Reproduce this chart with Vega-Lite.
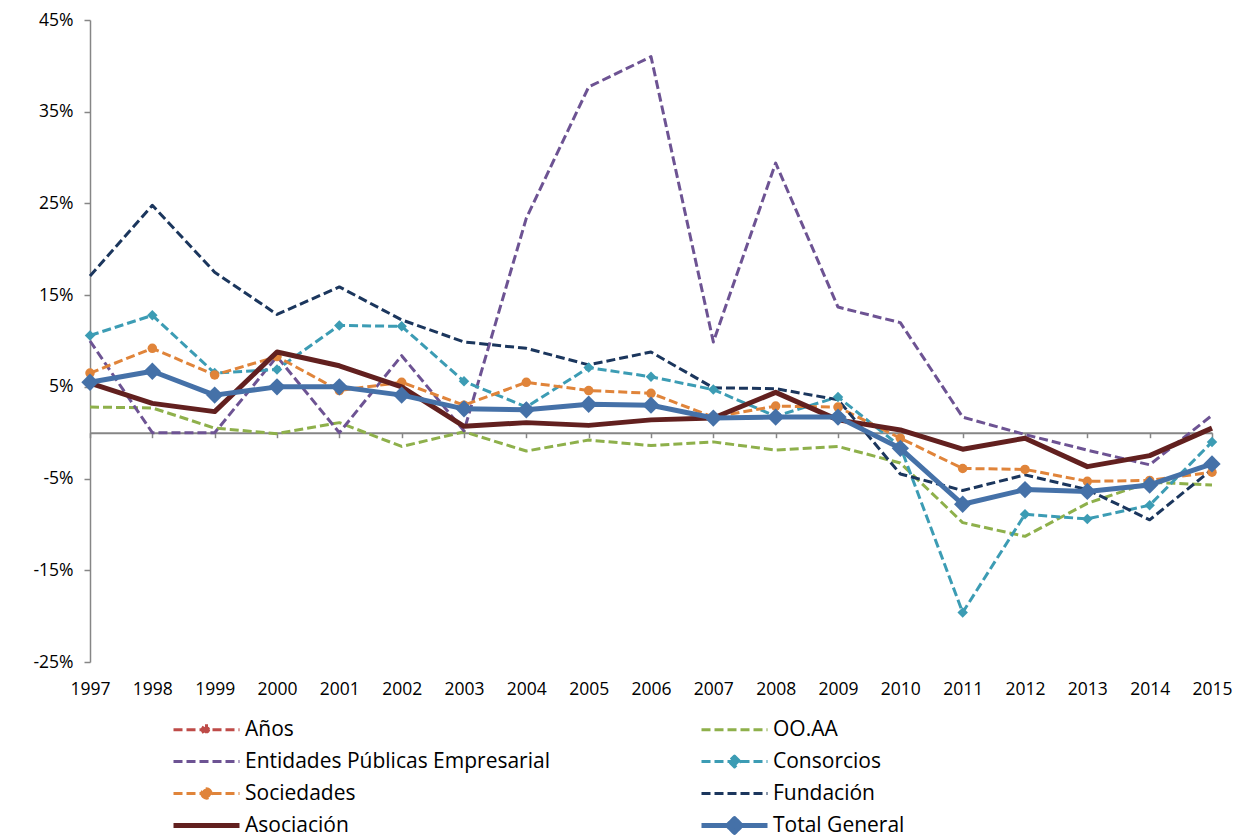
{
  "$schema": "https://vega.github.io/schema/vega-lite/v6.json",
  "width": 1122,
  "height": 642,
  "autosize": {"type": "none"},
  "padding": {"left": 90, "top": 20, "right": 31, "bottom": 175},
  "background": "white",
  "config": {"view": {"stroke": null}, "font": "Open Sans"},
  "datasets": {
    "d": [
      {"serie":"OO.AA","year":1997,"value":2.8},{"serie":"OO.AA","year":1998,"value":2.7},{"serie":"OO.AA","year":1999,"value":0.5},{"serie":"OO.AA","year":2000,"value":-0.1},{"serie":"OO.AA","year":2001,"value":1.1},{"serie":"OO.AA","year":2002,"value":-1.5},{"serie":"OO.AA","year":2003,"value":0.1},{"serie":"OO.AA","year":2004,"value":-2.0},{"serie":"OO.AA","year":2005,"value":-0.8},{"serie":"OO.AA","year":2006,"value":-1.4},{"serie":"OO.AA","year":2007,"value":-1.0},{"serie":"OO.AA","year":2008,"value":-1.9},{"serie":"OO.AA","year":2009,"value":-1.5},{"serie":"OO.AA","year":2010,"value":-3.3},{"serie":"OO.AA","year":2011,"value":-9.8},{"serie":"OO.AA","year":2012,"value":-11.3},{"serie":"OO.AA","year":2013,"value":-7.7},{"serie":"OO.AA","year":2014,"value":-5.4},{"serie":"OO.AA","year":2015,"value":-5.7},
      {"serie":"Entidades Públicas Empresarial","year":1997,"value":10.0},{"serie":"Entidades Públicas Empresarial","year":1998,"value":0.0},{"serie":"Entidades Públicas Empresarial","year":1999,"value":0.0},{"serie":"Entidades Públicas Empresarial","year":2000,"value":8.3},{"serie":"Entidades Públicas Empresarial","year":2001,"value":0.0},{"serie":"Entidades Públicas Empresarial","year":2002,"value":8.4},{"serie":"Entidades Públicas Empresarial","year":2003,"value":0.2},{"serie":"Entidades Públicas Empresarial","year":2004,"value":23.4},{"serie":"Entidades Públicas Empresarial","year":2005,"value":37.7},{"serie":"Entidades Públicas Empresarial","year":2006,"value":41.0},{"serie":"Entidades Públicas Empresarial","year":2007,"value":9.9},{"serie":"Entidades Públicas Empresarial","year":2008,"value":29.4},{"serie":"Entidades Públicas Empresarial","year":2009,"value":13.7},{"serie":"Entidades Públicas Empresarial","year":2010,"value":12.0},{"serie":"Entidades Públicas Empresarial","year":2011,"value":1.7},{"serie":"Entidades Públicas Empresarial","year":2012,"value":-0.2},{"serie":"Entidades Públicas Empresarial","year":2013,"value":-1.9},{"serie":"Entidades Públicas Empresarial","year":2014,"value":-3.5},{"serie":"Entidades Públicas Empresarial","year":2015,"value":1.9},
      {"serie":"Consorcios","year":1997,"value":10.6},{"serie":"Consorcios","year":1998,"value":12.8},{"serie":"Consorcios","year":1999,"value":6.5},{"serie":"Consorcios","year":2000,"value":6.9},{"serie":"Consorcios","year":2001,"value":11.7},{"serie":"Consorcios","year":2002,"value":11.6},{"serie":"Consorcios","year":2003,"value":5.6},{"serie":"Consorcios","year":2004,"value":2.8},{"serie":"Consorcios","year":2005,"value":7.1},{"serie":"Consorcios","year":2006,"value":6.1},{"serie":"Consorcios","year":2007,"value":4.7},{"serie":"Consorcios","year":2008,"value":1.8},{"serie":"Consorcios","year":2009,"value":3.9},{"serie":"Consorcios","year":2010,"value":-1.5},{"serie":"Consorcios","year":2011,"value":-19.6},{"serie":"Consorcios","year":2012,"value":-8.9},{"serie":"Consorcios","year":2013,"value":-9.4},{"serie":"Consorcios","year":2014,"value":-7.9},{"serie":"Consorcios","year":2015,"value":-1.0},
      {"serie":"Sociedades","year":1997,"value":6.5},{"serie":"Sociedades","year":1998,"value":9.2},{"serie":"Sociedades","year":1999,"value":6.3},{"serie":"Sociedades","year":2000,"value":8.3},{"serie":"Sociedades","year":2001,"value":4.6},{"serie":"Sociedades","year":2002,"value":5.5},{"serie":"Sociedades","year":2003,"value":3.0},{"serie":"Sociedades","year":2004,"value":5.5},{"serie":"Sociedades","year":2005,"value":4.6},{"serie":"Sociedades","year":2006,"value":4.3},{"serie":"Sociedades","year":2007,"value":1.7},{"serie":"Sociedades","year":2008,"value":2.9},{"serie":"Sociedades","year":2009,"value":2.8},{"serie":"Sociedades","year":2010,"value":-0.6},{"serie":"Sociedades","year":2011,"value":-3.9},{"serie":"Sociedades","year":2012,"value":-4.0},{"serie":"Sociedades","year":2013,"value":-5.3},{"serie":"Sociedades","year":2014,"value":-5.2},{"serie":"Sociedades","year":2015,"value":-4.3},
      {"serie":"Fundación","year":1997,"value":17.1},{"serie":"Fundación","year":1998,"value":24.8},{"serie":"Fundación","year":1999,"value":17.5},{"serie":"Fundación","year":2000,"value":12.9},{"serie":"Fundación","year":2001,"value":15.9},{"serie":"Fundación","year":2002,"value":12.3},{"serie":"Fundación","year":2003,"value":9.9},{"serie":"Fundación","year":2004,"value":9.2},{"serie":"Fundación","year":2005,"value":7.4},{"serie":"Fundación","year":2006,"value":8.8},{"serie":"Fundación","year":2007,"value":4.9},{"serie":"Fundación","year":2008,"value":4.8},{"serie":"Fundación","year":2009,"value":3.6},{"serie":"Fundación","year":2010,"value":-4.5},{"serie":"Fundación","year":2011,"value":-6.3},{"serie":"Fundación","year":2012,"value":-4.6},{"serie":"Fundación","year":2013,"value":-6.2},{"serie":"Fundación","year":2014,"value":-9.5},{"serie":"Fundación","year":2015,"value":-4.0},
      {"serie":"Asociación","year":1997,"value":5.4},{"serie":"Asociación","year":1998,"value":3.2},{"serie":"Asociación","year":1999,"value":2.3},{"serie":"Asociación","year":2000,"value":8.8},{"serie":"Asociación","year":2001,"value":7.3},{"serie":"Asociación","year":2002,"value":5.0},{"serie":"Asociación","year":2003,"value":0.7},{"serie":"Asociación","year":2004,"value":1.1},{"serie":"Asociación","year":2005,"value":0.8},{"serie":"Asociación","year":2006,"value":1.4},{"serie":"Asociación","year":2007,"value":1.6},{"serie":"Asociación","year":2008,"value":4.4},{"serie":"Asociación","year":2009,"value":1.4},{"serie":"Asociación","year":2010,"value":0.3},{"serie":"Asociación","year":2011,"value":-1.8},{"serie":"Asociación","year":2012,"value":-0.6},{"serie":"Asociación","year":2013,"value":-3.7},{"serie":"Asociación","year":2014,"value":-2.5},{"serie":"Asociación","year":2015,"value":0.5},
      {"serie":"Total General","year":1997,"value":5.5},{"serie":"Total General","year":1998,"value":6.7},{"serie":"Total General","year":1999,"value":4.1},{"serie":"Total General","year":2000,"value":5.0},{"serie":"Total General","year":2001,"value":5.0},{"serie":"Total General","year":2002,"value":4.1},{"serie":"Total General","year":2003,"value":2.6},{"serie":"Total General","year":2004,"value":2.5},{"serie":"Total General","year":2005,"value":3.1},{"serie":"Total General","year":2006,"value":3.0},{"serie":"Total General","year":2007,"value":1.6},{"serie":"Total General","year":2008,"value":1.7},{"serie":"Total General","year":2009,"value":1.7},{"serie":"Total General","year":2010,"value":-1.7},{"serie":"Total General","year":2011,"value":-7.8},{"serie":"Total General","year":2012,"value":-6.2},{"serie":"Total General","year":2013,"value":-6.4},{"serie":"Total General","year":2014,"value":-5.7},{"serie":"Total General","year":2015,"value":-3.4}
    ]
  },
  "data": {"name": "d"},
  "encoding": {
    "x": {"field": "year", "type": "ordinal", "scale": {"type": "point", "padding": 0}, "axis": null},
    "y": {
      "field": "value", "type": "quantitative",
      "scale": {"domain": [-25, 45], "nice": false, "zero": false},
      "axis": {
        "title": null, "grid": false,
        "values": [-25, -15, -5, 5, 15, 25, 35, 45],
        "labelExpr": "datum.value + '%'",
        "domainColor": "#868686", "domainWidth": 1.5,
        "tickColor": "#868686", "tickSize": 6, "tickWidth": 1.5,
        "labelPadding": 11, "labelFontSize": 17.5, "labelColor": "#000000", "labelFont": "Open Sans"
      }
    },
    "color": {
      "field": "serie", "type": "nominal",
      "scale": {
        "domain": ["Años", "Entidades Públicas Empresarial", "Sociedades", "Asociación", "OO.AA", "Consorcios", "Fundación", "Total General"],
        "range": ["#BE4B48", "#6D5393", "#E0843A", "#62201F", "#8EB04B", "#3C9CB4", "#1B365D", "#4571A8"]
      },
      "legend": {
        "title": null, "orient": "none", "legendX": 106, "legendY": 699,
        "columns": 2, "columnPadding": 149, "rowPadding": 10, "padding": 0,
        "labelFont": "Open Sans", "labelFontSize": 21, "labelColor": "#000000", "labelOffset": 28, "labelLimit": 600,
        "symbolSize": 100,
        "encode": {
          "symbols": {
            "update": {
              "shape": {"signal": "datum.value === 'Años' ? 'M-6.6,0H6.6M0,-1.1V1.1M-0.95,-0.55L0.95,0.55M-0.95,0.55L0.95,-0.55' : datum.value === 'Consorcios' ? 'M-6.6,0H6.6M0,-1.1L1.1,0L0,1.1L-1.1,0Z' : datum.value === 'Sociedades' ? 'M-6.6,0H6.6M-0.93,0A0.93,0.93 0 1,0 0.93,0A0.93,0.93 0 1,0 -0.93,0Z' : datum.value === 'Total General' ? 'M-6.6,0H6.6M0,-1.35L1.35,0L0,1.35L-1.35,0Z' : 'M-6.6,0H6.6'"},
              "stroke": {"scale": "color", "field": "value"},
              "fill": {"scale": "color", "field": "value"},
              "strokeWidth": {"signal": "datum.value === 'Asociación' || datum.value === 'Total General' ? 5 : 3"},
              "strokeDash": {"signal": "datum.value === 'Asociación' || datum.value === 'Total General' ? [1, 0] : [9, 4]"},
              "strokeJoin": {"value": "round"},
              "opacity": {"value": 1},
              "fillOpacity": {"value": 1},
              "strokeOpacity": {"value": 1}
            }
          }
        }
      }
    }
  },
  "layer": [
    {
      "transform": [{"filter": "indexof(['OO.AA','Entidades Públicas Empresarial','Consorcios','Sociedades','Fundación'], datum.serie) >= 0"}],
      "mark": {"type": "line", "strokeWidth": 3, "strokeDash": [9, 4], "strokeJoin": "round"},
      "encoding": {
        "x": {"field": "year", "type": "ordinal", "scale": {"type": "point", "padding": 0},
          "axis": {"orient": "bottom", "title": null, "domain": false, "ticks": false, "labelPadding": 18, "labelAngle": 0, "labelFontSize": 17.5, "labelColor": "#000000", "labelFont": "Open Sans"}}
      }
    },
    {
      "transform": [{"filter": "datum.serie === 'Consorcios'"}],
      "mark": {"type": "point", "shape": "diamond", "filled": true, "opacity": 1, "size": 110},
      "encoding": {
        "x": {"field": "year", "type": "ordinal", "scale": {"type": "point", "padding": 0},
          "axis": {"orient": "bottom", "title": null, "labels": false, "domainColor": "#868686", "domainWidth": 2, "tickColor": "#868686", "tickSize": 5, "tickWidth": 1.5, "offset": -229.3}}
      }
    },
    {
      "transform": [{"filter": "datum.serie === 'Sociedades'"}],
      "mark": {"type": "point", "shape": "circle", "filled": true, "opacity": 1, "size": 90}
    },
    {
      "transform": [{"filter": "datum.serie === 'Asociación' || datum.serie === 'Total General'"}],
      "mark": {"type": "line", "strokeWidth": 5, "strokeJoin": "round"}
    },
    {
      "transform": [{"filter": "datum.serie === 'Total General'"}],
      "mark": {"type": "point", "shape": "diamond", "filled": true, "opacity": 1, "size": 300}
    }
  ],
  "resolve": {"axis": {"x": "independent"}}
}
